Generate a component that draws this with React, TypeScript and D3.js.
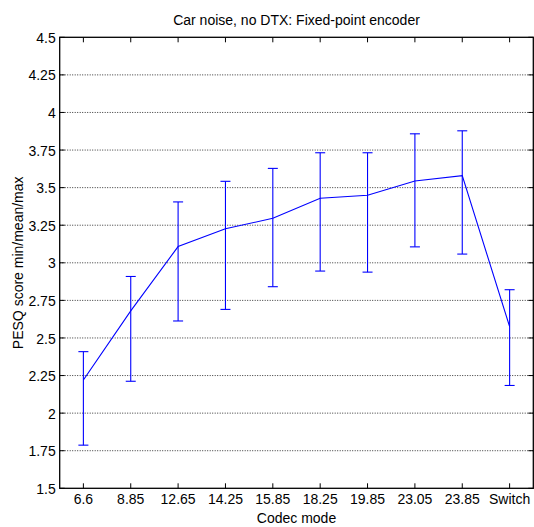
import React from "react";
import * as d3 from "d3";

const categories = ["6.6", "8.85", "12.65", "14.25", "15.85", "18.25", "19.85", "23.05", "23.85", "Switch"];
const meanValues = [2.22, 2.68, 3.108, 3.226, 3.296, 3.429, 3.449, 3.544, 3.58, 2.575];
const minValues = [1.787, 2.212, 2.613, 2.69, 2.841, 2.945, 2.938, 3.106, 3.058, 2.184];
const maxValues = [2.409, 2.909, 3.405, 3.542, 3.628, 3.732, 3.732, 3.858, 3.878, 2.821];
const yTicks = [1.5, 1.75, 2, 2.25, 2.5, 2.75, 3, 3.25, 3.5, 3.75, 4, 4.25, 4.5];
const yTickLabels = ["1.5", "1.75", "2", "2.25", "2.5", "2.75", "3", "3.25", "3.5", "3.75", "4", "4.25", "4.5"];

const W = 534;
const H = 527;
const margin = { left: 59.7, right: 534 - 533.3, top: 37.3, bottom: 527 - 488.3 };

export default function App() {
  const x = d3
    .scaleLinear()
    .domain([0.5, categories.length + 0.5])
    .range([margin.left, W - margin.right]);
  const y = d3.scaleLinear().domain([1.5, 4.5]).range([H - margin.bottom, margin.top]);
  const x0 = margin.left;
  const x1 = W - margin.right;
  const y0 = H - margin.bottom;
  const y1 = margin.top;
  const font = "'Liberation Sans', Arial, sans-serif";
  const fs = 14;
  const line = d3
    .line<number>()
    .x((_, i) => x(i + 1))
    .y((d) => y(d));
  const cap = 5;
  const tickLen = 5;
  return (
    <svg
      width={W}
      height={H}
      style={{ position: "absolute", left: 0, top: 0, background: "#fff" }}
      fontFamily={font}
    >
      <rect x={0} y={0} width={W} height={H} fill="#fff" />
      {yTicks.map((t, i) =>
        i === 0 || i === yTicks.length - 1 ? null : (
          <line
            key={"g" + i}
            x1={x0}
            x2={x1}
            y1={y(t)}
            y2={y(t)}
            stroke="#000"
            strokeWidth={0.8}
            strokeDasharray="1,1.5"
          />
        )
      )}
      {yTicks.map((t, i) => (
        <g key={"yt" + i}>
          <line x1={x0} x2={x0 + tickLen} y1={y(t)} y2={y(t)} stroke="#000" />
          <line x1={x1} x2={x1 - tickLen} y1={y(t)} y2={y(t)} stroke="#000" />
          <text x={x0 - 4} y={y(t)} dy="0.4em" textAnchor="end" fontSize={fs} fill="#000">
            {yTickLabels[i]}
          </text>
        </g>
      ))}
      {categories.map((c, i) => (
        <g key={"xt" + i}>
          <line x1={x(i + 1)} x2={x(i + 1)} y1={y0} y2={y0 - tickLen} stroke="#000" />
          <line x1={x(i + 1)} x2={x(i + 1)} y1={y1} y2={y1 + tickLen} stroke="#000" />
          <text x={x(i + 1)} y={y0 + 15.7} textAnchor="middle" fontSize={fs} fill="#000">
            {c}
          </text>
        </g>
      ))}
      <rect x={x0} y={y1} width={x1 - x0} height={y0 - y1} fill="none" stroke="#000" strokeWidth={1.3} />
      {categories.map((c, i) => (
        <g key={"eb" + i} stroke="#0000ff" strokeWidth={1.1}>
          <line x1={x(i + 1)} x2={x(i + 1)} y1={y(minValues[i])} y2={y(maxValues[i])} />
          <line x1={x(i + 1) - cap} x2={x(i + 1) + cap} y1={y(minValues[i])} y2={y(minValues[i])} />
          <line x1={x(i + 1) - cap} x2={x(i + 1) + cap} y1={y(maxValues[i])} y2={y(maxValues[i])} />
        </g>
      ))}
      <path d={line(meanValues) || ""} fill="none" stroke="#0000ff" strokeWidth={1.1} />
      <text x={(x0 + x1) / 2} y={25} textAnchor="middle" fontSize={fs} fill="#000">
        Car noise, no DTX: Fixed-point encoder
      </text>
      <text x={(x0 + x1) / 2} y={523} textAnchor="middle" fontSize={fs} fill="#000">
        Codec mode
      </text>
      <text
        transform={`translate(23,${(y0 + y1) / 2}) rotate(-90)`}
        textAnchor="middle"
        fontSize={fs}
        fill="#000"
      >
        PESQ score min/mean/max
      </text>
    </svg>
  );
}
